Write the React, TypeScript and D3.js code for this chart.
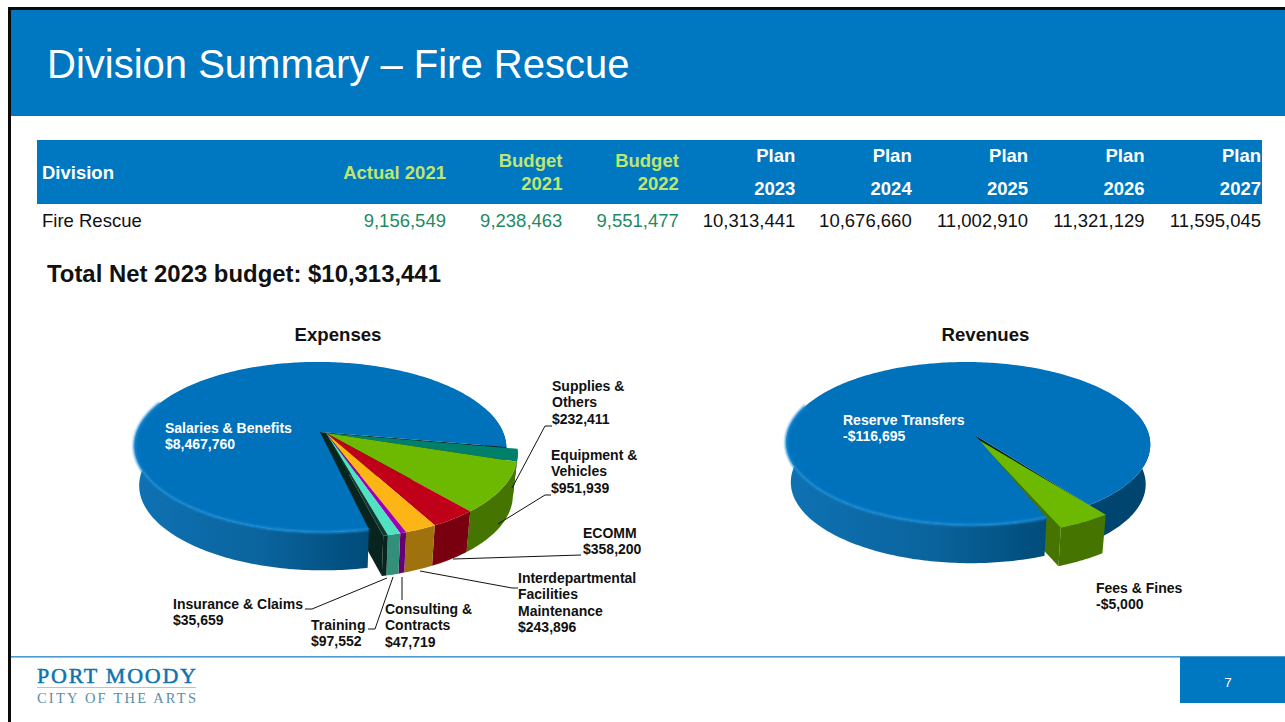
import React from "react"
import * as d3 from "d3"

const FONT = "'Liberation Sans', Arial, sans-serif"
const BLUE = "#0077C1"

const tableYears = ["Actual 2021", "Budget 2021", "Budget 2022", "Plan 2023", "Plan 2024", "Plan 2025", "Plan 2026", "Plan 2027"]
const fireRescue = [9156549, 9238463, 9551477, 10313441, 10676660, 11002910, 11321129, 11595045]

const expenseNames = ["Salaries & Benefits", "Supplies & Others", "Equipment & Vehicles", "ECOMM", "Interdepartmental Facilities Maintenance", "Consulting & Contracts", "Training", "Insurance & Claims"]
const expenseValues = [8467760, 232411, 951939, 358200, 243896, 47719, 97552, 35659]
const expenseColors = ["#0072BC", "#00806A", "#6DB800", "#C00018", "#FDB515", "#A000B4", "#4FE3C1", "#0C3A30"]

const revenueNames = ["Reserve Transfers", "Fees & Fines"]
const revenueValues = [116695, 5000]
const revenueColors = ["#0072BC", "#6DB800"]

const deg = Math.PI / 180
const fmt = d3.format(",")

type Geo = { cx: number; cy: number; ax: number; rx: number; ry: number; k: number; skew: number; h: number }

// tilted disc with a bit of perspective, theta clockwise from the back
const project = (g: Geo, theta: number, r: number, down: boolean): [number, number] => {
  const c = Math.cos(theta) * r
  const s = Math.sin(theta) * r
  const p = 1 / (1 + g.k * c)
  const y = -g.ry * c * p
  const x = g.rx * s * p + g.skew * y
  if (!down) return [g.cx + x, g.cy + y]
  return [g.cx + x * 0.975, g.cy + y * 0.975 + g.h * (0.9 + 0.1 * p)]
}

const line = d3.line()

const arcPts = (g: Geo, a0: number, a1: number, down = false) => {
  const n = Math.max(2, Math.ceil(Math.abs(a1 - a0) / (1 * deg)))
  return d3.range(n + 1).map((i) => project(g, a0 + ((a1 - a0) * i) / n, 1, down))
}

const topPath = (g: Geo, a0: number, a1: number) =>
  line([[g.cx + g.ax, g.cy], ...arcPts(g, a0, a1)]) + "Z"

const wallPath = (g: Geo, a0: number, a1: number) =>
  line([...arcPts(g, a0, a1), ...arcPts(g, a1, a0, true)]) + "Z"

const facePath = (g: Geo, a: number) =>
  line([[g.cx + g.ax, g.cy], project(g, a, 1, false), project(g, a, 1, true), [g.cx + g.ax, g.cy + g.h]]) + "Z"

const Pie3D = ({ values, colors, names, base, slice, start, gradId, rightCut }: any) => {
  const arcs = d3.pie<number>().sort(null).startAngle(start * deg).endAngle(start * deg + 2 * Math.PI)(values)
  const main = arcs[0]
  const rest = arcs.slice(1)
  const last = rest[rest.length - 1]
  const leftEnd = 292 * deg
  const rightStart = rightCut * deg
  return (
    <g>
      <path d={wallPath(base, rightStart + 2 * Math.PI, main.endAngle)} fill="#00456F" />
      <path d={facePath(base, main.endAngle)} fill="#03241E" />
      <path d={facePath(slice, last.endAngle)} fill={d3.color(colors[colors.length - 1])!.darker(1.3).formatHex()} />
      {rest.map((d, i) => (
        <g key={names[i + 1]}>
          <path d={wallPath(slice, d.startAngle, d.endAngle)} fill={d3.color(colors[i + 1])!.darker(1.3).formatHex()} />
          <path d={topPath(slice, d.startAngle, d.endAngle)} fill={colors[i + 1]} />
        </g>
      ))}
      <path d={wallPath(base, main.startAngle, leftEnd)} fill={`url(#${gradId})`} />
      <path d={topPath(base, main.startAngle, main.endAngle)} fill={colors[0]} />
      <path d={line(arcPts(base, main.startAngle, leftEnd)) ?? ""} fill="none" stroke="#1C8AD2" strokeWidth={2.5} filter="url(#soft)" />
    </g>
  )
}

const Label = ({ x, y, lines, fill = "#111" }: any) => (
  <text x={x} y={y} fontFamily={FONT} fontSize={14} fontWeight="bold" fill={fill}>
    {lines.map((t: string, i: number) => (
      <tspan key={t} x={x} dy={i ? 16.3 : 0}>{t}</tspan>
    ))}
  </text>
)

const Leader = ({ d }: { d: string }) => <path d={d} fill="none" stroke="#111" strokeWidth={1} />

export default function App() {
  const colX = d3.scaleLinear().domain([0, 7]).range([446, 1261])
  const expGeo: Geo = { cx: 320, cy: 432, ax: 0, rx: 183, ry: 82.4, k: 0.176, skew: 0.03, h: 40 }
  const expSlice: Geo = { ...expGeo, cx: 326, cy: 433, rx: 187, ry: 87, skew: 0.1, h: 42 }
  const revGeo: Geo = { cx: 968, cy: 435, ax: 7, rx: 181, ry: 80.6, k: 0.104, skew: 0.03, h: 40 }
  const revSlice: Geo = { ...revGeo, cx: 970, cy: 439, rx: 195, ry: 87, skew: 0.1 }

  return (
    <svg width={1285} height={722} style={{ position: "absolute", left: 0, top: 0, display: "block" }}>
      <defs>
        <linearGradient id="wallExp" gradientUnits="userSpaceOnUse" x1={134} x2={372} y1={0} y2={0}>
          <stop offset="0" stopColor="#0F72B4" />
          <stop offset="0.55" stopColor="#0A639C" />
          <stop offset="1" stopColor="#004A78" />
        </linearGradient>
        <linearGradient id="wallRev" gradientUnits="userSpaceOnUse" x1={786} x2={1055} y1={0} y2={0}>
          <stop offset="0" stopColor="#0F72B4" />
          <stop offset="0.55" stopColor="#0A639C" />
          <stop offset="1" stopColor="#004A78" />
        </linearGradient>
        <filter id="soft"><feGaussianBlur stdDeviation="0.8" /></filter>
      </defs>

      <rect x={0} y={0} width={1285} height={722} fill="#fff" />
      <rect x={8} y={7} width={1277} height={3} fill="#0a0a0a" />
      <rect x={8} y={7} width={3} height={715} fill="#0a0a0a" />
      <rect x={11} y={10} width={1274} height={106} fill={BLUE} />
      <text x={47} y={78} fontFamily={FONT} fontSize={40} fill="#fff">Division Summary – Fire Rescue</text>

      <rect x={37} y={140} width={1225} height={64} fill={BLUE} />
      <text x={42} y={179} fontFamily={FONT} fontSize={18.5} fontWeight="bold" fill="#fff">Division</text>
      {tableYears.map((label, i) => {
        const [a, b] = label.split(" ")
        const x = colX(i)
        const fs = { fontFamily: FONT, fontSize: 18.5, fontWeight: "bold" as const, textAnchor: "end" as const }
        if (i === 0) return <text key={label} x={x} y={179} {...fs} fill="#BFE66E">{label}</text>
        const isPlan = i > 2
        return (
          <g key={label}>
            <text x={x} y={isPlan ? 162 : 167} {...fs} fill={isPlan ? "#fff" : "#BFE66E"}>{a}</text>
            <text x={x} y={isPlan ? 195 : 190} {...fs} fill={isPlan ? "#fff" : "#BFE66E"}>{b}</text>
          </g>
        )
      })}
      <text x={42} y={227} fontFamily={FONT} fontSize={18.5} fill="#111">Fire Rescue</text>
      {fireRescue.map((v, i) => (
        <text key={i} x={colX(i)} y={227} fontFamily={FONT} fontSize={18.5} textAnchor="end" fill={i < 3 ? "#1E8A63" : "#111"}>{fmt(v)}</text>
      ))}

      <text x={47} y={282} fontFamily={FONT} fontSize={23.9} fontWeight="bold" fill="#111">Total Net 2023 budget: $10,313,441</text>

      <text x={338} y={341} fontFamily={FONT} fontSize={18.6} fontWeight="bold" textAnchor="middle" fill="#111">Expenses</text>
      <text x={985.5} y={341} fontFamily={FONT} fontSize={18.6} fontWeight="bold" textAnchor="middle" fill="#111">Revenues</text>

      <Pie3D values={expenseValues} colors={expenseColors} names={expenseNames} base={expGeo} slice={expSlice} start={168} gradId="wallExp" rightCut={75} />
      <Pie3D values={revenueValues} colors={revenueColors} names={revenueNames} base={revGeo} slice={revSlice} start={157.7} gradId="wallRev" rightCut={75} />

      <Leader d="M512 488L545 426H552" />
      <Leader d="M498 524L545 495H551" />
      <Leader d="M453 559L581 555" />
      <Leader d="M420 571L512 588H518" />
      <Leader d="M402 577V600" />
      <Leader d="M393 577L375 629H368" />
      <Leader d="M387 578L312 609H305" />

      <Label x={165} y={433} lines={["Salaries & Benefits", "$" + fmt(expenseValues[0])]} fill="#fff" />
      <Label x={552} y={391} lines={["Supplies &", "Others", "$" + fmt(expenseValues[1])]} />
      <Label x={551} y={460} lines={["Equipment &", "Vehicles", "$" + fmt(expenseValues[2])]} />
      <Label x={583} y={538} lines={["ECOMM", "$" + fmt(expenseValues[3])]} />
      <Label x={518} y={583} lines={["Interdepartmental", "Facilities", "Maintenance", "$" + fmt(expenseValues[4])]} />
      <Label x={385} y={614} lines={["Consulting &", "Contracts", "$" + fmt(expenseValues[5])]} />
      <Label x={311} y={630} lines={["Training", "$" + fmt(expenseValues[6])]} />
      <Label x={173} y={609} lines={["Insurance & Claims", "$" + fmt(expenseValues[7])]} />
      <Label x={843} y={425} lines={["Reserve Transfers", "-$" + fmt(revenueValues[0])]} fill="#fff" />
      <Label x={1096} y={593} lines={["Fees & Fines", "-$" + fmt(revenueValues[1])]} />

      <rect x={11} y={656} width={1274} height={1.6} fill="#4A9BD4" />
      <rect x={1180} y={657} width={105} height={46} fill={BLUE} />
      <text x={1228} y={687} fontFamily={FONT} fontSize={13.5} textAnchor="middle" fill="#fff">7</text>

      <text x={37} y={683} fontFamily="'Liberation Serif', serif" fontSize={22} fill="#0E74AE" stroke="#0E74AE" strokeWidth={0.5} textLength={159} lengthAdjust="spacing">PORT MOODY</text>
      <rect x={37} y={687} width={159} height={1} fill="#A8C8D8" />
      <text x={37} y={703} fontFamily="'Liberation Serif', serif" fontSize={14.5} fill="#5B8EA6" textLength={159} lengthAdjust="spacing">CITY OF THE ARTS</text>
    </svg>
  )
}
